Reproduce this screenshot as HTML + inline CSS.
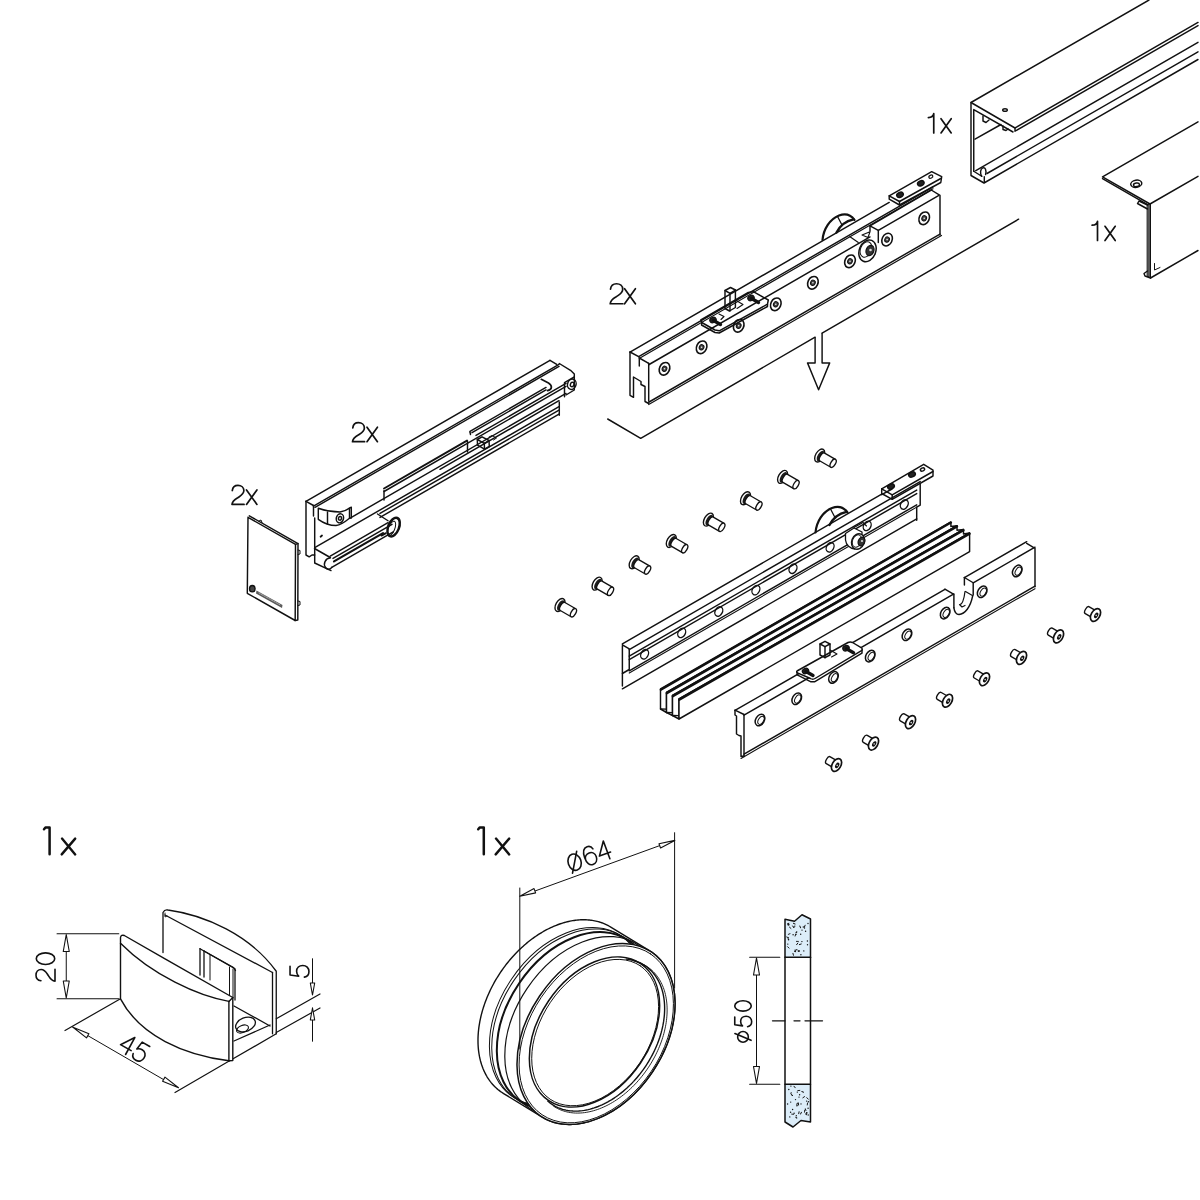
<!DOCTYPE html>
<html><head><meta charset="utf-8"><style>
html,body{margin:0;padding:0;background:#fff;width:1200px;height:1200px;overflow:hidden}
svg{display:block}
</style></head><body>
<svg width="1200" height="1200" viewBox="0 0 1200 1200" stroke-linejoin="round" stroke-linecap="round">
<rect width="1200" height="1200" fill="#fff"/>
<path d="M928.37,117.54 C931.45,117.54 933.37,116.00 933.75,113.70 L933.75,132.90" fill="none" stroke="#111" stroke-width="1.7" stroke-linecap="round"/>
<path d="M941.00,118.70 L951.22,132.90 M951.22,118.70 L941.00,132.90" fill="none" stroke="#111" stroke-width="1.7" stroke-linecap="round"/>
<path d="M1092.12,225.14 C1095.20,225.14 1097.12,223.60 1097.50,221.30 L1097.50,240.50" fill="none" stroke="#111" stroke-width="1.7" stroke-linecap="round"/>
<path d="M1105.00,226.30 L1115.22,240.50 M1115.22,226.30 L1105.00,240.50" fill="none" stroke="#111" stroke-width="1.7" stroke-linecap="round"/>
<path d="M610.50,289.15 C611.00,285.25 613.70,283.75 616.50,283.75 C620.00,283.75 622.70,285.95 622.70,289.25 C622.70,293.25 619.20,294.75 616.20,296.75 C612.70,298.75 610.40,300.75 610.20,303.75 L622.90,303.75" fill="none" stroke="#111" stroke-width="1.7" stroke-linejoin="round" stroke-linecap="round"/>
<path d="M624.60,288.75 L635.40,303.75 M635.40,288.75 L624.60,303.75" fill="none" stroke="#111" stroke-width="1.7" stroke-linecap="round"/>
<path d="M352.79,427.83 C353.26,424.12 355.82,422.70 358.49,422.70 C361.81,422.70 364.38,424.79 364.38,427.93 C364.38,431.72 361.05,433.15 358.20,435.05 C354.88,436.95 352.69,438.85 352.50,441.70 L364.56,441.70" fill="none" stroke="#111" stroke-width="1.7" stroke-linejoin="round" stroke-linecap="round"/>
<path d="M367.00,427.20 L377.44,441.70 M377.44,427.20 L367.00,441.70" fill="none" stroke="#111" stroke-width="1.7" stroke-linecap="round"/>
<path d="M232.28,490.53 C232.76,486.82 235.32,485.40 237.99,485.40 C241.31,485.40 243.88,487.49 243.88,490.62 C243.88,494.42 240.55,495.85 237.70,497.75 C234.38,499.65 232.19,501.55 232.00,504.40 L244.06,504.40" fill="none" stroke="#111" stroke-width="1.7" stroke-linejoin="round" stroke-linecap="round"/>
<path d="M246.50,489.90 L256.94,504.40 M256.94,489.90 L246.50,504.40" fill="none" stroke="#111" stroke-width="1.7" stroke-linecap="round"/>
<path d="M44.00,829.2 L45.40,827.6 L49.60,827.6 L49.60,854.3" fill="none" stroke="#111" stroke-width="2.5" stroke-linecap="round" stroke-linejoin="round"/>
<path d="M62.00,838.6 L75.20,854.4 M75.20,838.6 L61.70,854.4" fill="none" stroke="#111" stroke-width="2.4" stroke-linecap="round"/>
<path d="M478.20,829.2 L479.60,827.6 L483.80,827.6 L483.80,854.3" fill="none" stroke="#111" stroke-width="2.5" stroke-linecap="round" stroke-linejoin="round"/>
<path d="M496.00,838.6 L509.20,854.4 M509.20,838.6 L495.70,854.4" fill="none" stroke="#111" stroke-width="2.4" stroke-linecap="round"/>
<path d="M1149.00,0.00 L971.00,102.50 L971.00,175.50 L984.00,183.00 L1198.00,59.50" fill="none" stroke="#111" stroke-width="1.45" />
<path d="M971.00,102.50 L1015.00,128.00 L1198.00,22.40" fill="none" stroke="#111" stroke-width="1.45" />
<path d="M1015.00,128.00 L1015.00,131.20 L1198.00,25.60" fill="none" stroke="#111" stroke-width="1.45" />
<path d="M1013.00,132.00 L973.75,109.60 L973.75,171.25" fill="none" stroke="#111" stroke-width="1.45" />
<path d="M975.00,139.20 L1001.00,124.50" fill="none" stroke="#111" stroke-width="1.45" />
<path d="M975.80,170.60 L1198.00,42.30" fill="none" stroke="#111" stroke-width="1.45" />
<path d="M987.00,173.50 L1198.00,51.80" fill="none" stroke="#111" stroke-width="1.45" />
<path d="M973.75,171.25 L981.70,176.25" fill="none" stroke="#111" stroke-width="1.45" />
<path d="M981.7,176.25 C979.8,173.5 980.3,169 982.8,167.9 C985.3,167 986.6,170 985.6,174.6" fill="none" stroke="#111" stroke-width="1.45" />
<path d="M984.30,176.80 L984.30,182.60" fill="none" stroke="#111" stroke-width="1.45" />
<ellipse cx="1005.00" cy="110.00" rx="2.30" ry="1.30" transform="rotate(0 1005.00 110.00)" fill="none" stroke="#111" stroke-width="1.45"/>
<path d="M983.00,116.00 L983.00,121.00 L986.00,122.50 L989.00,120.00" fill="none" stroke="#111" stroke-width="1.45" />
<path d="M1003.00,126.00 L1003.00,129.50 L1006.00,130.50 L1008.00,129.00" fill="none" stroke="#111" stroke-width="1.45" />
<path d="M1198.00,121.80 L1102.50,176.90 L1150.00,204.00 L1198.00,176.30" fill="none" stroke="#111" stroke-width="1.45" />
<path d="M1102.50,178.60 L1148.00,204.80" fill="none" stroke="#111" stroke-width="1.45" />
<path d="M1147.5,205 L1150.5,204 L1150.5,278 L1147.5,276.5Z" fill="#555" stroke="#111" stroke-width="1"/>
<path d="M1150.50,278.00 L1198.00,250.50" fill="none" stroke="#111" stroke-width="1.45" />
<ellipse cx="1136.25" cy="183.75" rx="5.60" ry="3.60" transform="rotate(-10 1136.25 183.75)" fill="none" stroke="#111" stroke-width="1.45"/>
<ellipse cx="1136.50" cy="184.80" rx="3.00" ry="1.80" transform="rotate(-10 1136.50 184.80)" fill="none" stroke="#111" stroke-width="1.45"/>
<path d="M1147.50,205.00 L1139.00,201.00 L1137.50,203.50 L1147.50,209.00" fill="none" stroke="#111" stroke-width="1.45" />
<path d="M1147.50,271.00 L1144.00,273.50 L1145.00,276.00 L1150.50,278.00" fill="none" stroke="#111" stroke-width="1.45" />
<path d="M1154.50,263.50 L1154.50,270.00 L1160.00,267.50" fill="none" stroke="#111" stroke-width="1" />
<g transform="translate(0 0)"><path d="M822.5,240 C823.5,229 830,219 839,215.5 C845.5,213 850.5,214.5 854.5,219.8" fill="none" stroke="#111" stroke-width="2.2"/><path d="M836.5,232.5 C839.5,226.5 845.5,221 853.5,219.3" fill="none" stroke="#111" stroke-width="2.4"/><path d="M837.8,217 L842,225" fill="none" stroke="#111" stroke-width="1.3"/></g>
<path d="M630.00,352.05 L889.20,202.39" fill="none" stroke="#111" stroke-width="1.45" />
<path d="M638.70,356.72 L933.00,186.80" fill="none" stroke="#111" stroke-width="1.45" />
<path d="M640.00,357.97 L933.00,188.80" fill="none" stroke="#111" stroke-width="1.2" />
<path d="M630.00,352.00 L630.00,395.30 L633.50,397.30 L633.50,377.00 L641.00,381.50 L641.00,384.50 L645.00,386.50 L645.00,401.50 L648.70,403.50" fill="none" stroke="#111" stroke-width="1.45" />
<path d="M630.00,352.00 L638.70,356.70" fill="none" stroke="#111" stroke-width="1.45" />
<path d="M639.30,358.00 L648.70,363.30" fill="none" stroke="#111" stroke-width="1.45" />
<path d="M639.30,358.00 L639.30,366.00" fill="none" stroke="#111" stroke-width="1.45" />
<path d="M648.70,364.75 L870.00,236.97" fill="none" stroke="#111" stroke-width="1.45" />
<path d="M648.70,363.30 L648.70,401.00" fill="none" stroke="#111" stroke-width="1.45" />
<path d="M648.70,402.25 L940.00,234.05" fill="none" stroke="#111" stroke-width="1.45" />
<path d="M648.70,404.55 L941.50,235.49" fill="none" stroke="#111" stroke-width="1.2" />
<path d="M870.00,225.80 L931.25,190.00 L940.00,195.40 L940.00,235.00" fill="none" stroke="#111" stroke-width="1.45" />
<path d="M870.00,225.80 L878.30,230.40 L938.50,195.60" fill="none" stroke="#111" stroke-width="1.45" />
<path d="M870.00,225.80 L870.00,231.00" fill="none" stroke="#111" stroke-width="1.45" />
<path d="M878.30,230.40 L878.30,242.50" fill="none" stroke="#111" stroke-width="1.45" />
<path d="M862.00,235.00 L870.00,231.70 L868.00,237.50 L862.00,235.00" fill="none" stroke="#111" stroke-width="1.1" />
<path d="M850.00,236.70 L858.30,242.50" fill="none" stroke="#111" stroke-width="1.2" />
<ellipse cx="924.20" cy="218.30" rx="5.00" ry="6.60" transform="rotate(25 924.20 218.30)" fill="none" stroke="#111" stroke-width="1.6"/>
<ellipse cx="924.20" cy="218.30" rx="2.30" ry="2.70" transform="rotate(25 924.20 218.30)" fill="#444" stroke="#111" stroke-width="1.0"/>
<circle cx="924.20" cy="218.30" r="0.8" fill="#eee"/>
<ellipse cx="887.10" cy="239.60" rx="5.00" ry="6.60" transform="rotate(25 887.10 239.60)" fill="none" stroke="#111" stroke-width="1.6"/>
<ellipse cx="887.10" cy="239.60" rx="2.30" ry="2.70" transform="rotate(25 887.10 239.60)" fill="#444" stroke="#111" stroke-width="1.0"/>
<circle cx="887.10" cy="239.60" r="0.8" fill="#eee"/>
<ellipse cx="850.00" cy="261.30" rx="5.00" ry="6.60" transform="rotate(25 850.00 261.30)" fill="none" stroke="#111" stroke-width="1.6"/>
<ellipse cx="850.00" cy="261.30" rx="2.30" ry="2.70" transform="rotate(25 850.00 261.30)" fill="#444" stroke="#111" stroke-width="1.0"/>
<circle cx="850.00" cy="261.30" r="0.8" fill="#eee"/>
<ellipse cx="812.90" cy="282.80" rx="5.00" ry="6.60" transform="rotate(25 812.90 282.80)" fill="none" stroke="#111" stroke-width="1.6"/>
<ellipse cx="812.90" cy="282.80" rx="2.30" ry="2.70" transform="rotate(25 812.90 282.80)" fill="#444" stroke="#111" stroke-width="1.0"/>
<circle cx="812.90" cy="282.80" r="0.8" fill="#eee"/>
<ellipse cx="775.80" cy="304.30" rx="5.00" ry="6.60" transform="rotate(25 775.80 304.30)" fill="none" stroke="#111" stroke-width="1.6"/>
<ellipse cx="775.80" cy="304.30" rx="2.30" ry="2.70" transform="rotate(25 775.80 304.30)" fill="#444" stroke="#111" stroke-width="1.0"/>
<circle cx="775.80" cy="304.30" r="0.8" fill="#eee"/>
<ellipse cx="738.70" cy="325.80" rx="5.00" ry="6.60" transform="rotate(25 738.70 325.80)" fill="none" stroke="#111" stroke-width="1.6"/>
<ellipse cx="738.70" cy="325.80" rx="2.30" ry="2.70" transform="rotate(25 738.70 325.80)" fill="#444" stroke="#111" stroke-width="1.0"/>
<circle cx="738.70" cy="325.80" r="0.8" fill="#eee"/>
<ellipse cx="701.60" cy="347.30" rx="5.00" ry="6.60" transform="rotate(25 701.60 347.30)" fill="none" stroke="#111" stroke-width="1.6"/>
<ellipse cx="701.60" cy="347.30" rx="2.30" ry="2.70" transform="rotate(25 701.60 347.30)" fill="#444" stroke="#111" stroke-width="1.0"/>
<circle cx="701.60" cy="347.30" r="0.8" fill="#eee"/>
<ellipse cx="664.50" cy="368.80" rx="5.00" ry="6.60" transform="rotate(25 664.50 368.80)" fill="none" stroke="#111" stroke-width="1.6"/>
<ellipse cx="664.50" cy="368.80" rx="2.30" ry="2.70" transform="rotate(25 664.50 368.80)" fill="#444" stroke="#111" stroke-width="1.0"/>
<circle cx="664.50" cy="368.80" r="0.8" fill="#eee"/>
<path d="M889.20,195.80 L931.70,171.70 L941.70,176.70 L940.80,182.50 L899.50,205.00 L889.20,199.20 L889.20,195.80" fill="none" stroke="#111" stroke-width="1.45" />
<path d="M889.20,195.80 L899.50,201.50 L940.80,178.50" fill="none" stroke="#111" stroke-width="1.45" />
<path d="M899.50,201.50 L899.50,205.00" fill="none" stroke="#111" stroke-width="1.45" />
<ellipse cx="900.00" cy="194.80" rx="3.40" ry="2.40" transform="rotate(-25 900.00 194.80)" fill="#222" stroke="#111" stroke-width="1.45"/>
<ellipse cx="920.80" cy="183.30" rx="3.40" ry="2.40" transform="rotate(-25 920.80 183.30)" fill="#222" stroke="#111" stroke-width="1.45"/>
<ellipse cx="930.80" cy="176.70" rx="2.10" ry="1.50" transform="rotate(-25 930.80 176.70)" fill="none" stroke="#111" stroke-width="1.2"/>
<ellipse cx="867.5" cy="250.8" rx="8.2" ry="11.2" transform="rotate(22 867.5 250.8)" fill="#fff" stroke="#111" stroke-width="1.5"/>
<ellipse cx="866.00" cy="249.50" rx="5.50" ry="8.00" transform="rotate(22 866.00 249.50)" fill="none" stroke="#111" stroke-width="1.0"/>
<ellipse cx="870" cy="250.5" rx="3.8" ry="5.2" transform="rotate(22 870 250.5)" fill="#333" stroke="#111" stroke-width="1.2"/>
<circle cx="870.5" cy="250" r="1.3" fill="#ddd"/>
<path d="M700.80,320.00 L748.30,292.50 L753.30,291.70 L768.30,300.00 L767.50,304.20 L719.20,330.80 L715.00,330.00 L701.70,322.50 L700.80,320.00" fill="none" stroke="#111" stroke-width="1.45" />
<path d="M701.70,322.50 L701.50,325.00 L715.00,332.50 L719.20,333.00 L767.50,306.50 L767.50,304.20" fill="none" stroke="#111" stroke-width="1.45" />
<ellipse cx="713.00" cy="320.00" rx="3.30" ry="2.60" transform="rotate(-28 713.00 320.00)" fill="#222" stroke="#111" stroke-width="1.2"/>
<ellipse cx="751.00" cy="298.00" rx="3.30" ry="2.60" transform="rotate(-28 751.00 298.00)" fill="#222" stroke="#111" stroke-width="1.2"/>
<path d="M713.50,320.50 L720.50,324.50" fill="none" stroke="#111" stroke-width="3.4" />
<path d="M751.50,298.50 L758.50,302.50" fill="none" stroke="#111" stroke-width="3.4" />
<path d="M725.00,290.50 L730.50,287.50 L735.40,290.00 L735.40,307.50 L729.50,311.00 L725.00,308.50 L725.00,290.50" fill="none" stroke="#111" stroke-width="1.45" />
<path d="M725.00,290.50 L730.00,293.30 L735.40,290.00" fill="none" stroke="#111" stroke-width="1.45" />
<path d="M730.00,293.30 L730.00,311.00" fill="none" stroke="#111" stroke-width="1.45" />
<path d="M735.40,300.00 L743.00,304.50 L737.00,308.50" fill="none" stroke="#111" stroke-width="1.1" />
<path d="M719.00,314.00 L724.00,316.50 L721.00,319.50" fill="none" stroke="#111" stroke-width="1.1" />
<path d="M607.70,419.00 L640.70,438.30 L815.10,337.20" fill="none" stroke="#111" stroke-width="1.45" />
<path d="M822.10,333.10 L1018.60,219.20" fill="none" stroke="#111" stroke-width="1.45" />
<path d="M815.10,337.60 L815.10,362.90 L807.50,362.90 L818.60,389.80 L829.70,362.90 L822.10,362.90 L822.10,333.50" fill="none" stroke="#111" stroke-width="1.45" />
<path d="M306.00,501.34 L550.00,360.45" fill="none" stroke="#111" stroke-width="1.45" />
<path d="M313.50,506.21 L559.00,364.45" fill="none" stroke="#111" stroke-width="1.45" />
<path d="M315.00,507.34 L559.00,366.45" fill="none" stroke="#111" stroke-width="1.45" />
<path d="M470.00,431.34 L546.00,387.46" fill="none" stroke="#111" stroke-width="1.45" />
<path d="M472.00,432.69 L546.00,389.96" fill="none" stroke="#111" stroke-width="1.45" />
<path d="M470.00,432.00 L470.50,434.50" fill="none" stroke="#111" stroke-width="1.45" />
<path d="M384.00,488.50 L467.00,440.57" fill="none" stroke="#111" stroke-width="1.9" />
<path d="M476.00,435.38 L566.00,383.41" fill="none" stroke="#111" stroke-width="1.45" />
<path d="M384.00,491.50 L566.00,386.41" fill="none" stroke="#111" stroke-width="1.45" />
<path d="M351.00,517.55 L566.00,393.41" fill="none" stroke="#111" stroke-width="1.45" />
<path d="M440.00,469.36 L559.00,400.65" fill="none" stroke="#111" stroke-width="1.45" />
<path d="M314.70,547.71 L559.00,406.65" fill="none" stroke="#111" stroke-width="1.45" />
<path d="M380.00,513.41 L559.00,410.05" fill="none" stroke="#111" stroke-width="1.45" />
<path d="M380.00,517.41 L559.00,414.05" fill="none" stroke="#111" stroke-width="1.45" />
<path d="M467.50,441.00 L467.50,452.00" fill="none" stroke="#111" stroke-width="1.45" />
<path d="M477.30,439.50 L482.00,436.80 L489.00,440.50 L489.30,446.50 L484.50,449.20 L477.50,445.20 L477.30,439.50" fill="none" stroke="#111" stroke-width="1.45" />
<path d="M477.30,439.50 L484.30,443.30 L489.00,440.50" fill="none" stroke="#111" stroke-width="1.45" />
<path d="M484.30,443.30 L484.50,449.20" fill="none" stroke="#111" stroke-width="1.45" />
<path d="M489.00,437.00 L492.00,435.50 L496.50,438.00 L493.50,440.00" fill="none" stroke="#111" stroke-width="1" />
<path d="M306.00,501.30 L306.00,555.00 L309.20,556.80 L312.00,555.00 L314.70,555.00" fill="none" stroke="#111" stroke-width="1.45" />
<path d="M306.00,501.30 L313.50,505.50" fill="none" stroke="#111" stroke-width="1.45" />
<path d="M314.70,518.00 L314.70,563.00 L331.00,570.60" fill="none" stroke="#111" stroke-width="1.45" />
<path d="M313.50,505.50 L313.50,516.00" fill="none" stroke="#111" stroke-width="1.45" />
<path d="M318.3,508.3 C326,511 334,512 340,512 C344,511.5 347,510 349.5,508.2 L349.5,518.3 C345,522 341,525 336,525.5 C328,525.5 322,522 318.3,519.3 Z" fill="none" stroke="#111" stroke-width="1.45" />
<path d="M327.50,512.00 L327.50,524.00" fill="none" stroke="#111" stroke-width="1.45" />
<ellipse cx="339.90" cy="518.30" rx="3.60" ry="4.60" transform="rotate(15 339.90 518.30)" fill="none" stroke="#111" stroke-width="1.5"/>
<ellipse cx="340.00" cy="518.30" rx="1.50" ry="1.90" transform="rotate(15 340.00 518.30)" fill="none" stroke="#111" stroke-width="1.45"/>
<path d="M349.50,508.20 L351.30,507.20 L351.30,518.00 L349.50,518.30" fill="none" stroke="#111" stroke-width="1.45" />
<path d="M384.00,490.70 L384.00,500.00" fill="none" stroke="#111" stroke-width="1.45" />
<path d="M320.60,536.70 L322.00,535.50" fill="none" stroke="#111" stroke-width="1.8" />
<path d="M550.00,360.30 L556.70,364.30" fill="none" stroke="#111" stroke-width="1.45" />
<path d="M559.30,363.50 L570.50,370.30 L574.30,374.00 L574.30,377.00 L564.50,382.70 L564.50,396.70" fill="none" stroke="#111" stroke-width="1.45" />
<path d="M574.30,377.00 L574.30,390.00 L566.00,395.00" fill="none" stroke="#111" stroke-width="1.45" />
<ellipse cx="571.80" cy="384.30" rx="4.20" ry="5.20" transform="rotate(20 571.80 384.30)" fill="none" stroke="#111" stroke-width="1.45"/>
<ellipse cx="572.20" cy="384.50" rx="1.80" ry="2.20" transform="rotate(20 572.20 384.50)" fill="none" stroke="#111" stroke-width="1.45"/>
<path d="M541.3,379.3 L548.5,383 C552.5,385.5 552.5,389.5 547.5,390.6" fill="none" stroke="#111" stroke-width="1.7" />
<path d="M559.30,402.00 L559.30,415.30" fill="none" stroke="#111" stroke-width="1.45" />
<path d="M377.50,514.00 L388.00,520.75" fill="none" stroke="#111" stroke-width="1.45" />
<path d="M314.50,548.50 L330.25,557.50" fill="none" stroke="#111" stroke-width="1.45" />
<path d="M330.25,556.03 L388.00,522.69" fill="none" stroke="#111" stroke-width="1.45" />
<path d="M333.00,558.45 L392.00,524.38" fill="none" stroke="#111" stroke-width="1.45" />
<path d="M334.00,561.37 L383.00,533.08" fill="none" stroke="#111" stroke-width="2.2" />
<path d="M331.75,567.27 L393.25,531.76" fill="none" stroke="#111" stroke-width="1.45" />
<path d="M330.5,557.8 C325,558.5 323,564 325.5,567.5 C327.5,570 330.5,569.5 331.75,567.3" fill="none" stroke="#111" stroke-width="1.45" />
<ellipse cx="393.60" cy="527.10" rx="5.40" ry="9.80" transform="rotate(22 393.60 527.10)" fill="none" stroke="#111" stroke-width="2.5"/>
<ellipse cx="391.50" cy="528.50" rx="3.20" ry="7.80" transform="rotate(22 391.50 528.50)" fill="none" stroke="#111" stroke-width="1.0"/>
<path d="M381.50,535.50 L385.50,533.30" fill="none" stroke="#111" stroke-width="2.0" />
<path d="M248.00,517.30 L295.50,544.40 L295.20,620.50 L247.30,593.30 L248.00,517.30" fill="none" stroke="#111" stroke-width="1.45" />
<path d="M249.30,515.80 L298.00,543.60 L297.80,620.00 L295.20,620.50" fill="none" stroke="#111" stroke-width="1.45" />
<path d="M295.50,544.40 L298.00,543.60" fill="none" stroke="#111" stroke-width="1.45" />
<path d="M259.00,521.00 L261.00,520.00 L262.00,522.50" fill="none" stroke="#111" stroke-width="1" />
<path d="M298.00,550.00 L300.00,550.50 L300.00,554.00 L298.00,554.50" fill="none" stroke="#111" stroke-width="1" />
<path d="M298.00,601.00 L300.00,601.50 L300.00,605.00 L298.00,605.50" fill="none" stroke="#111" stroke-width="1" />
<ellipse cx="252.30" cy="588.70" rx="2.80" ry="3.20" transform="rotate(0 252.30 588.70)" fill="#444" stroke="#111" stroke-width="1.3"/>
<path d="M256.5,590.5 L282.5,605 L282,608 L256,593.5Z" fill="#222" stroke="none" opacity="0.75"/>
<path d="M259,593 L280,604.8" stroke="#fff" stroke-width="0.7" stroke-dasharray="1.6 1.2" opacity="0.7"/>
<path d="M622.40,643.85 L881.70,494.13" fill="none" stroke="#111" stroke-width="1.45" />
<path d="M629.25,649.59 L920.20,481.60" fill="none" stroke="#111" stroke-width="1.45" />
<path d="M629.25,656.09 L916.70,490.12" fill="none" stroke="#111" stroke-width="1.45" />
<path d="M629.25,659.59 L916.70,493.62" fill="none" stroke="#111" stroke-width="1.45" />
<path d="M629.25,670.79 L916.70,504.82" fill="none" stroke="#111" stroke-width="1.45" />
<path d="M629.25,673.09 L916.70,507.12" fill="none" stroke="#111" stroke-width="1.1" />
<path d="M622.40,688.85 L916.70,518.92" fill="none" stroke="#111" stroke-width="1.45" />
<path d="M622.40,644.80 L629.25,648.90 L629.25,669.50 L622.40,673.50 L622.40,644.80" fill="none" stroke="#111" stroke-width="1.45" />
<path d="M622.40,673.50 L622.40,686.00" fill="none" stroke="#111" stroke-width="1.45" />
<path d="M920.20,484.20 L920.20,505.20 L916.70,507.20 L916.70,520.30" fill="none" stroke="#111" stroke-width="1.45" />
<path d="M881.70,494.70 L892.00,489.00" fill="none" stroke="#111" stroke-width="1.45" />
<ellipse cx="904.30" cy="504.50" rx="3.60" ry="5.00" transform="rotate(28 904.30 504.50)" fill="none" stroke="#111" stroke-width="1.4"/>
<ellipse cx="867.20" cy="525.90" rx="3.60" ry="5.00" transform="rotate(28 867.20 525.90)" fill="none" stroke="#111" stroke-width="1.4"/>
<ellipse cx="830.10" cy="547.30" rx="3.60" ry="5.00" transform="rotate(28 830.10 547.30)" fill="none" stroke="#111" stroke-width="1.4"/>
<ellipse cx="793.00" cy="568.70" rx="3.60" ry="5.00" transform="rotate(28 793.00 568.70)" fill="none" stroke="#111" stroke-width="1.4"/>
<ellipse cx="755.90" cy="590.10" rx="3.60" ry="5.00" transform="rotate(28 755.90 590.10)" fill="none" stroke="#111" stroke-width="1.4"/>
<ellipse cx="718.80" cy="611.50" rx="3.60" ry="5.00" transform="rotate(28 718.80 611.50)" fill="none" stroke="#111" stroke-width="1.4"/>
<ellipse cx="681.70" cy="632.90" rx="3.60" ry="5.00" transform="rotate(28 681.70 632.90)" fill="none" stroke="#111" stroke-width="1.4"/>
<ellipse cx="644.60" cy="654.30" rx="3.60" ry="5.00" transform="rotate(28 644.60 654.30)" fill="none" stroke="#111" stroke-width="1.4"/>
<path d="M881.70,488.80 L923.70,464.30 L933.00,470.20 L933.00,476.00 L892.20,499.30 L881.70,493.50 L881.70,488.80" fill="none" stroke="#111" stroke-width="1.45" />
<path d="M881.70,488.80 L892.20,494.80 L933.00,471.50" fill="none" stroke="#111" stroke-width="1.45" />
<path d="M892.20,494.80 L892.20,499.30" fill="none" stroke="#111" stroke-width="1.45" />
<ellipse cx="891.00" cy="486.50" rx="3.50" ry="2.40" transform="rotate(-25 891.00 486.50)" fill="#222" stroke="#111" stroke-width="1.45"/>
<ellipse cx="912.00" cy="474.50" rx="3.50" ry="2.40" transform="rotate(-25 912.00 474.50)" fill="#222" stroke="#111" stroke-width="1.45"/>
<ellipse cx="922.50" cy="469.50" rx="2.20" ry="1.50" transform="rotate(-25 922.50 469.50)" fill="none" stroke="#111" stroke-width="1.45"/>
<g transform="translate(-7 292.5)"><path d="M822.5,240 C823.5,229 830,219 839,215.5 C845.5,213 850.5,214.5 854.5,219.8" fill="none" stroke="#111" stroke-width="2.2"/><path d="M836.5,232.5 C839.5,226.5 845.5,221 853.5,219.3" fill="none" stroke="#111" stroke-width="2.4"/><path d="M837.8,217 L842,225" fill="none" stroke="#111" stroke-width="1.3"/></g>
<path d="M845.5,533.5 L845.5,540 C846,545 850,548.5 855,549 L862,545 L862,532 L854,528 Z" fill="#fff" stroke="#111" stroke-width="1.3"/>
<path d="M854.00,527.50 L863.00,522.50 L866.50,526.00" fill="none" stroke="#111" stroke-width="1.1" />
<ellipse cx="858" cy="541.5" rx="6.3" ry="8" transform="rotate(22 858 541.5)" fill="#fff" stroke="#111" stroke-width="1.4"/>
<ellipse cx="857.00" cy="541.00" rx="4.40" ry="6.40" transform="rotate(22 857.00 541.00)" fill="none" stroke="#111" stroke-width="0.9"/>
<ellipse cx="861.5" cy="541.5" rx="3.2" ry="4.5" transform="rotate(22 861.5 541.5)" fill="#333" stroke="#111" stroke-width="1.2"/>
<circle cx="862" cy="541" r="1.1" fill="#ddd"/>
<path d="M660.5,709.0 L660.5,689 L950.9,521.9 L950.9,526.4 L957,525.7 L666.5,692.5 L666.5,712.5 Z" fill="#fff" stroke="#111" stroke-width="1.45" stroke-linejoin="round"/>
<path d="M660.50,709.00 L666.50,709.10" fill="none" stroke="#111" stroke-width="1.45" />
<path d="M660.80,689.70 L950.90,522.60" fill="none" stroke="#111" stroke-width="2.3" />
<path d="M666.5,712.5 L666.5,692.5 L957,525.7 L957,530.2 L963.5,529.5 L672.5,695.5 L672.5,715.5 Z" fill="#fff" stroke="#111" stroke-width="1.45" stroke-linejoin="round"/>
<path d="M666.50,712.50 L672.50,712.60" fill="none" stroke="#111" stroke-width="1.45" />
<path d="M666.80,693.20 L957.00,526.40" fill="none" stroke="#111" stroke-width="2.3" />
<path d="M672.5,715.5 L672.5,695.5 L963.5,529.5 L963.5,534.0 L969.6,533 L679,699 L679,719.0 Z" fill="#fff" stroke="#111" stroke-width="1.45" stroke-linejoin="round"/>
<path d="M672.50,715.50 L679.00,715.60" fill="none" stroke="#111" stroke-width="1.45" />
<path d="M672.80,696.20 L963.50,530.20" fill="none" stroke="#111" stroke-width="2.3" />
<path d="M679,719.0 L679,699 L969.6,533 L969.6,551.7 Z" fill="#fff" stroke="#111" stroke-width="1.45" stroke-linejoin="round"/>
<path d="M679.30,699.70 L969.60,533.70" fill="none" stroke="#111" stroke-width="2.3" />
<path d="M735.00,710.20 L744.00,714.50" fill="none" stroke="#111" stroke-width="1.45" />
<path d="M735.00,710.49 L944.90,589.29" fill="none" stroke="#111" stroke-width="1.45" />
<path d="M744.00,715.19 L953.90,593.99" fill="none" stroke="#111" stroke-width="1.45" />
<path d="M964.40,577.63 L1026.70,541.66" fill="none" stroke="#111" stroke-width="1.45" />
<path d="M973.20,582.85 L1035.00,547.17" fill="none" stroke="#111" stroke-width="1.45" />
<path d="M1026.70,543.30 L1035.00,548.30 L1035.00,586.70" fill="none" stroke="#111" stroke-width="1.45" />
<path d="M744.00,754.19 L1035.00,586.17" fill="none" stroke="#111" stroke-width="1.45" />
<path d="M741.00,758.42 L1035.00,588.67" fill="none" stroke="#111" stroke-width="1.1" />
<path d="M735.00,710.20 L735.00,715.00 L736.50,716.00 L736.50,734.00 L739.00,735.50 L741.00,736.00 L741.00,756.50 L744.00,756.00" fill="none" stroke="#111" stroke-width="1.45" />
<path d="M744.00,714.50 L744.00,756.50" fill="none" stroke="#111" stroke-width="1.45" />
<path d="M944.90,589.20 L953.90,594.40 L953.90,607.80" fill="none" stroke="#111" stroke-width="1.45" />
<path d="M953.9,607.8 C954.5,612 956,614.5 959,614.5 C965,614 970.5,607 972.6,596.2" fill="none" stroke="#111" stroke-width="1.45" />
<path d="M964.40,577.50 L973.20,582.75 L973.20,595.00" fill="none" stroke="#111" stroke-width="1.45" />
<path d="M964.40,577.50 L964.40,585.00" fill="none" stroke="#111" stroke-width="1.45" />
<path d="M965,591.5 C964,600 962,605 959.5,604.5 L962,607 L965,605.5" fill="none" stroke="#111" stroke-width="1.2" />
<path d="M965.50,591.50 L972.80,595.80" fill="none" stroke="#111" stroke-width="1.2" />
<ellipse cx="760.00" cy="720.00" rx="4.30" ry="6.20" transform="rotate(30 760.00 720.00)" fill="none" stroke="#111" stroke-width="1.5"/>
<ellipse cx="761.00" cy="720.30" rx="2.60" ry="4.40" transform="rotate(30 761.00 720.30)" fill="none" stroke="#111" stroke-width="1.0"/>
<ellipse cx="796.75" cy="698.70" rx="4.30" ry="6.20" transform="rotate(30 796.75 698.70)" fill="none" stroke="#111" stroke-width="1.5"/>
<ellipse cx="797.75" cy="699.00" rx="2.60" ry="4.40" transform="rotate(30 797.75 699.00)" fill="none" stroke="#111" stroke-width="1.0"/>
<ellipse cx="833.50" cy="677.40" rx="4.30" ry="6.20" transform="rotate(30 833.50 677.40)" fill="none" stroke="#111" stroke-width="1.5"/>
<ellipse cx="834.50" cy="677.70" rx="2.60" ry="4.40" transform="rotate(30 834.50 677.70)" fill="none" stroke="#111" stroke-width="1.0"/>
<ellipse cx="870.25" cy="656.10" rx="4.30" ry="6.20" transform="rotate(30 870.25 656.10)" fill="none" stroke="#111" stroke-width="1.5"/>
<ellipse cx="871.25" cy="656.40" rx="2.60" ry="4.40" transform="rotate(30 871.25 656.40)" fill="none" stroke="#111" stroke-width="1.0"/>
<ellipse cx="907.00" cy="634.80" rx="4.30" ry="6.20" transform="rotate(30 907.00 634.80)" fill="none" stroke="#111" stroke-width="1.5"/>
<ellipse cx="908.00" cy="635.10" rx="2.60" ry="4.40" transform="rotate(30 908.00 635.10)" fill="none" stroke="#111" stroke-width="1.0"/>
<ellipse cx="945.20" cy="613.10" rx="4.30" ry="6.20" transform="rotate(30 945.20 613.10)" fill="none" stroke="#111" stroke-width="1.5"/>
<ellipse cx="946.20" cy="613.40" rx="2.60" ry="4.40" transform="rotate(30 946.20 613.40)" fill="none" stroke="#111" stroke-width="1.0"/>
<ellipse cx="982.20" cy="591.80" rx="4.30" ry="6.20" transform="rotate(30 982.20 591.80)" fill="none" stroke="#111" stroke-width="1.5"/>
<ellipse cx="983.20" cy="592.10" rx="2.60" ry="4.40" transform="rotate(30 983.20 592.10)" fill="none" stroke="#111" stroke-width="1.0"/>
<ellipse cx="1017.25" cy="570.90" rx="4.30" ry="6.20" transform="rotate(30 1017.25 570.90)" fill="none" stroke="#111" stroke-width="1.5"/>
<ellipse cx="1018.25" cy="571.20" rx="2.60" ry="4.40" transform="rotate(30 1018.25 571.20)" fill="none" stroke="#111" stroke-width="1.0"/>
<path d="M797,671 L848,642.5 C849.5,641.7 851,641.7 852.5,642.5 L861.5,647.8 C862.5,648.5 862.5,650 861.5,650.7 L815,678.5 C813.5,679.4 812,679.4 810.5,678.5 L797.5,672.8 C796.5,672.2 796.5,671.4 797,671 Z" fill="#fff" stroke="#111" stroke-width="1.45"/>
<path d="M797.00,672.50 L797.20,674.80 L811.00,681.80 L814.50,681.80 L862.00,653.20 L862.00,650.00" fill="none" stroke="#111" stroke-width="1.45" />
<ellipse cx="805.50" cy="671.00" rx="3.30" ry="2.60" transform="rotate(-28 805.50 671.00)" fill="#222" stroke="#111" stroke-width="1.2"/>
<ellipse cx="846.00" cy="648.20" rx="3.30" ry="2.60" transform="rotate(-28 846.00 648.20)" fill="#222" stroke="#111" stroke-width="1.2"/>
<path d="M806.00,671.50 L813.00,675.50" fill="none" stroke="#111" stroke-width="3.4" />
<path d="M846.50,648.70 L853.50,652.70" fill="none" stroke="#111" stroke-width="3.4" />
<path d="M806.00,671.50 L813.00,675.50" fill="none" stroke="#111" stroke-width="0.8" />
<path d="M846.50,648.70 L853.50,652.70" fill="none" stroke="#111" stroke-width="0.8" />
<path d="M820.00,644.00 L825.00,641.30 L830.00,644.00 L830.00,655.00 L825.00,657.70 L820.00,655.00 L820.00,644.00" fill="none" stroke="#111" stroke-width="1.45" />
<path d="M820.00,644.00 L825.00,646.70 L830.00,644.00" fill="none" stroke="#111" stroke-width="1.45" />
<path d="M825.00,646.70 L825.00,657.70" fill="none" stroke="#111" stroke-width="1.45" />
<path d="M830.00,650.00 L837.00,654.00 L831.50,657.00" fill="none" stroke="#111" stroke-width="1.1" />
<g transform="translate(560.00 605.00) rotate(30)"><ellipse cx="0" cy="0" rx="4.1" ry="7.1" fill="#fff" stroke="#111" stroke-width="1.4"/><ellipse cx="1.0" cy="0" rx="2.9" ry="5.9" fill="#1c1c1c" stroke="none"/><path d="M3.0,-4.6 L15.5,-4.6 L15.5,4.6 L3.0,4.6 A2.2,4.6 0 0 1 3.0,-4.6Z" fill="#fff" stroke="#111" stroke-width="1.35"/><ellipse cx="15.5" cy="0" rx="2.3" ry="4.6" fill="#fff" stroke="#111" stroke-width="1.35"/></g>
<g transform="translate(597.10 583.65) rotate(30)"><ellipse cx="0" cy="0" rx="4.1" ry="7.1" fill="#fff" stroke="#111" stroke-width="1.4"/><ellipse cx="1.0" cy="0" rx="2.9" ry="5.9" fill="#1c1c1c" stroke="none"/><path d="M3.0,-4.6 L15.5,-4.6 L15.5,4.6 L3.0,4.6 A2.2,4.6 0 0 1 3.0,-4.6Z" fill="#fff" stroke="#111" stroke-width="1.35"/><ellipse cx="15.5" cy="0" rx="2.3" ry="4.6" fill="#fff" stroke="#111" stroke-width="1.35"/></g>
<g transform="translate(634.20 562.30) rotate(30)"><ellipse cx="0" cy="0" rx="4.1" ry="7.1" fill="#fff" stroke="#111" stroke-width="1.4"/><ellipse cx="1.0" cy="0" rx="2.9" ry="5.9" fill="#1c1c1c" stroke="none"/><path d="M3.0,-4.6 L15.5,-4.6 L15.5,4.6 L3.0,4.6 A2.2,4.6 0 0 1 3.0,-4.6Z" fill="#fff" stroke="#111" stroke-width="1.35"/><ellipse cx="15.5" cy="0" rx="2.3" ry="4.6" fill="#fff" stroke="#111" stroke-width="1.35"/></g>
<g transform="translate(671.30 540.95) rotate(30)"><ellipse cx="0" cy="0" rx="4.1" ry="7.1" fill="#fff" stroke="#111" stroke-width="1.4"/><ellipse cx="1.0" cy="0" rx="2.9" ry="5.9" fill="#1c1c1c" stroke="none"/><path d="M3.0,-4.6 L15.5,-4.6 L15.5,4.6 L3.0,4.6 A2.2,4.6 0 0 1 3.0,-4.6Z" fill="#fff" stroke="#111" stroke-width="1.35"/><ellipse cx="15.5" cy="0" rx="2.3" ry="4.6" fill="#fff" stroke="#111" stroke-width="1.35"/></g>
<g transform="translate(708.40 519.60) rotate(30)"><ellipse cx="0" cy="0" rx="4.1" ry="7.1" fill="#fff" stroke="#111" stroke-width="1.4"/><ellipse cx="1.0" cy="0" rx="2.9" ry="5.9" fill="#1c1c1c" stroke="none"/><path d="M3.0,-4.6 L15.5,-4.6 L15.5,4.6 L3.0,4.6 A2.2,4.6 0 0 1 3.0,-4.6Z" fill="#fff" stroke="#111" stroke-width="1.35"/><ellipse cx="15.5" cy="0" rx="2.3" ry="4.6" fill="#fff" stroke="#111" stroke-width="1.35"/></g>
<g transform="translate(745.50 498.25) rotate(30)"><ellipse cx="0" cy="0" rx="4.1" ry="7.1" fill="#fff" stroke="#111" stroke-width="1.4"/><ellipse cx="1.0" cy="0" rx="2.9" ry="5.9" fill="#1c1c1c" stroke="none"/><path d="M3.0,-4.6 L15.5,-4.6 L15.5,4.6 L3.0,4.6 A2.2,4.6 0 0 1 3.0,-4.6Z" fill="#fff" stroke="#111" stroke-width="1.35"/><ellipse cx="15.5" cy="0" rx="2.3" ry="4.6" fill="#fff" stroke="#111" stroke-width="1.35"/></g>
<g transform="translate(782.60 476.90) rotate(30)"><ellipse cx="0" cy="0" rx="4.1" ry="7.1" fill="#fff" stroke="#111" stroke-width="1.4"/><ellipse cx="1.0" cy="0" rx="2.9" ry="5.9" fill="#1c1c1c" stroke="none"/><path d="M3.0,-4.6 L15.5,-4.6 L15.5,4.6 L3.0,4.6 A2.2,4.6 0 0 1 3.0,-4.6Z" fill="#fff" stroke="#111" stroke-width="1.35"/><ellipse cx="15.5" cy="0" rx="2.3" ry="4.6" fill="#fff" stroke="#111" stroke-width="1.35"/></g>
<g transform="translate(819.70 455.55) rotate(30)"><ellipse cx="0" cy="0" rx="4.1" ry="7.1" fill="#fff" stroke="#111" stroke-width="1.4"/><ellipse cx="1.0" cy="0" rx="2.9" ry="5.9" fill="#1c1c1c" stroke="none"/><path d="M3.0,-4.6 L15.5,-4.6 L15.5,4.6 L3.0,4.6 A2.2,4.6 0 0 1 3.0,-4.6Z" fill="#fff" stroke="#111" stroke-width="1.35"/><ellipse cx="15.5" cy="0" rx="2.3" ry="4.6" fill="#fff" stroke="#111" stroke-width="1.35"/></g>
<g transform="translate(836.50 765.00) rotate(30)"><path d="M-1,-4.0 L-9.5,-4.0 A2,4.0 0 0 0 -9.5,4.0 L-1,4.0Z" fill="#fff" stroke="#111" stroke-width="1.4"/><ellipse cx="0" cy="0" rx="4.3" ry="7" fill="#fff" stroke="#111" stroke-width="1.7"/><ellipse cx="0.8" cy="0" rx="1.8" ry="3.0" fill="#111" stroke="none"/><circle cx="0.8" cy="0" r="0.8" fill="#ddd"/></g>
<g transform="translate(873.50 743.57) rotate(30)"><path d="M-1,-4.0 L-9.5,-4.0 A2,4.0 0 0 0 -9.5,4.0 L-1,4.0Z" fill="#fff" stroke="#111" stroke-width="1.4"/><ellipse cx="0" cy="0" rx="4.3" ry="7" fill="#fff" stroke="#111" stroke-width="1.7"/><ellipse cx="0.8" cy="0" rx="1.8" ry="3.0" fill="#111" stroke="none"/><circle cx="0.8" cy="0" r="0.8" fill="#ddd"/></g>
<g transform="translate(910.50 722.14) rotate(30)"><path d="M-1,-4.0 L-9.5,-4.0 A2,4.0 0 0 0 -9.5,4.0 L-1,4.0Z" fill="#fff" stroke="#111" stroke-width="1.4"/><ellipse cx="0" cy="0" rx="4.3" ry="7" fill="#fff" stroke="#111" stroke-width="1.7"/><ellipse cx="0.8" cy="0" rx="1.8" ry="3.0" fill="#111" stroke="none"/><circle cx="0.8" cy="0" r="0.8" fill="#ddd"/></g>
<g transform="translate(947.50 700.71) rotate(30)"><path d="M-1,-4.0 L-9.5,-4.0 A2,4.0 0 0 0 -9.5,4.0 L-1,4.0Z" fill="#fff" stroke="#111" stroke-width="1.4"/><ellipse cx="0" cy="0" rx="4.3" ry="7" fill="#fff" stroke="#111" stroke-width="1.7"/><ellipse cx="0.8" cy="0" rx="1.8" ry="3.0" fill="#111" stroke="none"/><circle cx="0.8" cy="0" r="0.8" fill="#ddd"/></g>
<g transform="translate(984.50 679.28) rotate(30)"><path d="M-1,-4.0 L-9.5,-4.0 A2,4.0 0 0 0 -9.5,4.0 L-1,4.0Z" fill="#fff" stroke="#111" stroke-width="1.4"/><ellipse cx="0" cy="0" rx="4.3" ry="7" fill="#fff" stroke="#111" stroke-width="1.7"/><ellipse cx="0.8" cy="0" rx="1.8" ry="3.0" fill="#111" stroke="none"/><circle cx="0.8" cy="0" r="0.8" fill="#ddd"/></g>
<g transform="translate(1021.50 657.85) rotate(30)"><path d="M-1,-4.0 L-9.5,-4.0 A2,4.0 0 0 0 -9.5,4.0 L-1,4.0Z" fill="#fff" stroke="#111" stroke-width="1.4"/><ellipse cx="0" cy="0" rx="4.3" ry="7" fill="#fff" stroke="#111" stroke-width="1.7"/><ellipse cx="0.8" cy="0" rx="1.8" ry="3.0" fill="#111" stroke="none"/><circle cx="0.8" cy="0" r="0.8" fill="#ddd"/></g>
<g transform="translate(1058.50 636.42) rotate(30)"><path d="M-1,-4.0 L-9.5,-4.0 A2,4.0 0 0 0 -9.5,4.0 L-1,4.0Z" fill="#fff" stroke="#111" stroke-width="1.4"/><ellipse cx="0" cy="0" rx="4.3" ry="7" fill="#fff" stroke="#111" stroke-width="1.7"/><ellipse cx="0.8" cy="0" rx="1.8" ry="3.0" fill="#111" stroke="none"/><circle cx="0.8" cy="0" r="0.8" fill="#ddd"/></g>
<g transform="translate(1095.50 614.99) rotate(30)"><path d="M-1,-4.0 L-9.5,-4.0 A2,4.0 0 0 0 -9.5,4.0 L-1,4.0Z" fill="#fff" stroke="#111" stroke-width="1.4"/><ellipse cx="0" cy="0" rx="4.3" ry="7" fill="#fff" stroke="#111" stroke-width="1.7"/><ellipse cx="0.8" cy="0" rx="1.8" ry="3.0" fill="#111" stroke="none"/><circle cx="0.8" cy="0" r="0.8" fill="#ddd"/></g>
<path d="M163,952.5 L163,912.5 C164,910.5 166,909.5 168,910 C205,915 250,935 276.25,971.25 L276.25,1033.75" fill="none" stroke="#111" stroke-width="1.3" />
<path d="M165.00,915.00 L272.50,972.50" fill="none" stroke="#111" stroke-width="1.3" />
<path d="M272.50,972.50 L272.50,1033.75" fill="none" stroke="#111" stroke-width="1.3" />
<path d="M165.00,913.00 L165.00,917.00 L167.00,916.00" fill="none" stroke="#111" stroke-width="0.9" />
<path d="M200.00,948.75 L235.00,968.75 L235.00,1000.00" fill="none" stroke="#111" stroke-width="1.3" />
<path d="M200.00,948.75 L200.00,975.00" fill="none" stroke="#111" stroke-width="1.3" />
<path d="M204.00,951.00 L233.50,967.50 L235.50,970.50" fill="none" stroke="#111" stroke-width="1.3" />
<path d="M204.00,951.00 L204.00,977.00" fill="none" stroke="#111" stroke-width="1.3" />
<path d="M210.00,954.50 L210.00,980.00" fill="none" stroke="#111" stroke-width="1.0" />
<path d="M229.50,967.00 L229.50,997.00" fill="none" stroke="#111" stroke-width="1.0" />
<path d="M233.00,969.00 L233.00,998.00" fill="none" stroke="#111" stroke-width="1.0" />
<path d="M234.00,1006.00 L270.00,1026.00" fill="none" stroke="#111" stroke-width="1.3" />
<path d="M234.00,1041.00 L270.00,1025.00" fill="none" stroke="#111" stroke-width="1.3" />
<ellipse cx="245.50" cy="1024.50" rx="10.30" ry="6.80" transform="rotate(-22 245.50 1024.50)" fill="none" stroke="#111" stroke-width="1.3"/>
<ellipse cx="242.50" cy="1029.00" rx="6.30" ry="3.60" transform="rotate(-22 242.50 1029.00)" fill="none" stroke="#111" stroke-width="1.1"/>
<path d="M228.75,1061.25 L276.25,1033.75" fill="none" stroke="#111" stroke-width="1.3" />
<path d="M120.5,998.8 L120.5,937.5 C120.8,935.5 122.5,934.8 124.3,935.5 C160,956 200,979 232.8,997.5 L232.8,1060.5 L228.9,1060.8 C184,1055 140,1036 120.5,998.8 Z" fill="#fff" stroke="#111" stroke-width="1.4"/>
<path d="M120.5,943.3 C152,975 198,996 228.9,1001.4" fill="none" stroke="#111" stroke-width="1.4" />
<path d="M228.90,1001.40 L232.80,997.50" fill="none" stroke="#111" stroke-width="1.4" />
<path d="M228.90,1001.40 L228.90,1060.80" fill="none" stroke="#111" stroke-width="1.4" />
<path d="M57.10,933.75 L118.75,933.75" fill="none" stroke="#111" stroke-width="1.2" />
<path d="M57.10,998.75 L118.75,998.75" fill="none" stroke="#111" stroke-width="1.2" />
<path d="M66.25,950.00 L66.25,982.00" fill="none" stroke="#111" stroke-width="1.0" />
<path transform="translate(66.25 934.50) rotate(-90)" d="M0,0 L-17,-3.0 L-17,3.0 Z" fill="#fff" stroke="#111" stroke-width="1.1"/>
<path transform="translate(66.25 998.00) rotate(90)" d="M0,0 L-17,-3.0 L-17,3.0 Z" fill="#fff" stroke="#111" stroke-width="1.1"/>
<g transform="translate(55.00 981.25) rotate(-90) scale(0.9500)" fill="none" stroke="#111" stroke-width="1.684" stroke-linecap="round" stroke-linejoin="round"><g transform="translate(0 0)"><path d="M0.6,-14.8 C1.1,-18.5 3.6,-20 6.4,-20 C9.8,-20 12.4,-17.8 12.4,-14.6 C12.4,-10.6 9,-9 6,-7 C2.6,-5 0.3,-3 0.1,0 L12.7,0"/></g><g transform="translate(17.3 0)"><ellipse cx="6.5" cy="-10" rx="6.1" ry="9.7"/></g></g>
<path d="M120.50,998.75 L65.00,1030.50" fill="none" stroke="#111" stroke-width="1.2" />
<path d="M228.75,1061.25 L175.00,1092.50" fill="none" stroke="#111" stroke-width="1.2" />
<path d="M85.00,1034.00 L166.00,1081.00" fill="none" stroke="#111" stroke-width="1.0" />
<path transform="translate(72.60 1027.00) rotate(30)" d="M0,0 L0,0 L0,0 Z" fill="#fff" stroke="#111" stroke-width="1.1"/>
<path transform="translate(73.00 1027.30) rotate(210)" d="M0,0 L-17,-2.4 L-17,2.4 Z" fill="#fff" stroke="#111" stroke-width="1.1"/>
<path transform="translate(178.50 1087.70) rotate(30)" d="M0,0 L-17,-2.4 L-17,2.4 Z" fill="#fff" stroke="#111" stroke-width="1.1"/>
<g transform="translate(117.50 1049.50) rotate(30) scale(0.9500)" fill="none" stroke="#111" stroke-width="1.684" stroke-linecap="round" stroke-linejoin="round"><g transform="translate(0 0)"><path d="M10,0.3 L9.5,-20 L0.2,-6 L13,-6.2"/></g><g transform="translate(16 0)"><path d="M11.8,-19.7 L2.6,-19.7 L1.4,-10.6 C2.9,-12.1 4.6,-12.8 6.6,-12.8 C10.3,-12.8 12.7,-10.1 12.7,-6.3 C12.7,-2.5 10,0.2 6.4,0.2 C3.1,0.2 0.9,-1.8 0.4,-4.6"/></g></g>
<path d="M276.25,1018.75 L320.00,994.00" fill="none" stroke="#111" stroke-width="1.2" />
<path d="M276.25,1032.50 L320.00,1008.00" fill="none" stroke="#111" stroke-width="1.2" />
<path d="M312.50,958.75 L312.50,994.00" fill="none" stroke="#111" stroke-width="1.0" />
<path d="M312.50,1008.00 L312.50,1041.25" fill="none" stroke="#111" stroke-width="1.0" />
<path transform="translate(312.50 995.00) rotate(90)" d="M0,0 L-12,-2.2 L-12,2.2 Z" fill="#fff" stroke="#111" stroke-width="1.1"/>
<path transform="translate(312.50 1008.00) rotate(-90)" d="M0,0 L-12,-2.2 L-12,2.2 Z" fill="#fff" stroke="#111" stroke-width="1.1"/>
<g transform="translate(308.75 977.50) rotate(-90) scale(0.9500)" fill="none" stroke="#111" stroke-width="1.684" stroke-linecap="round" stroke-linejoin="round"><g transform="translate(0 0)"><path d="M11.8,-19.7 L2.6,-19.7 L1.4,-10.6 C2.9,-12.1 4.6,-12.8 6.6,-12.8 C10.3,-12.8 12.7,-10.1 12.7,-6.3 C12.7,-2.5 10,0.2 6.4,0.2 C3.1,0.2 0.9,-1.8 0.4,-4.6"/></g></g>
<path d="M477.99,1039.86 L478.01,1038.37 L478.06,1036.86 L478.13,1035.35 L478.23,1033.83 L478.35,1032.30 L478.49,1030.77 L478.66,1029.23 L478.85,1027.68 L479.07,1026.13 L479.31,1024.57 L479.57,1023.01 L479.86,1021.45 L480.17,1019.88 L480.50,1018.31 L480.85,1016.73 L481.23,1015.16 L481.64,1013.58 L482.06,1012.00 L482.51,1010.42 L482.98,1008.85 L483.48,1007.27 L483.99,1005.69 L484.53,1004.11 L485.09,1002.54 L485.67,1000.97 L486.28,999.40 L486.90,997.83 L487.55,996.27 L488.22,994.71 L488.91,993.16 L489.62,991.61 L490.35,990.07 L491.10,988.53 L491.87,987.00 L492.66,985.48 L493.47,983.97 L494.30,982.46 L495.15,980.96 L496.02,979.47 L496.90,977.99 L497.81,976.52 L498.73,975.06 L499.67,973.61 L500.63,972.17 L501.60,970.75 L502.59,969.33 L503.60,967.93 L504.62,966.54 L505.66,965.17 L506.72,963.80 L507.79,962.46 L508.88,961.12 L509.98,959.80 L511.10,958.50 L512.22,957.21 L513.37,955.94 L514.52,954.69 L515.69,953.45 L516.87,952.23 L518.07,951.03 L519.27,949.84 L520.49,948.67 L521.72,947.53 L522.96,946.40 L524.21,945.29 L525.47,944.20 L526.74,943.13 L528.02,942.08 L529.30,941.05 L530.60,940.04 L531.90,939.06 L533.21,938.09 L534.53,937.15 L535.86,936.23 L537.19,935.33 L538.53,934.46 L539.87,933.61 L541.22,932.78 L542.57,931.98 L543.93,931.19 L545.29,930.44 L546.66,929.71 L548.03,929.00 L549.40,928.31 L550.77,927.66 L552.15,927.02 L553.53,926.42 L554.90,925.83 L556.28,925.28 L557.66,924.75 L559.04,924.24 L560.42,923.76 L561.80,923.31 L563.17,922.89 L564.55,922.49 L565.92,922.11 L567.29,921.77 L568.65,921.45 L570.01,921.16 L571.37,920.89 L572.73,920.66 L574.07,920.45 L575.42,920.26 L576.76,920.11 L578.09,919.98 L579.41,919.88 L580.73,919.81 L582.04,919.76 L583.35,919.74 L584.64,919.75 L585.93,919.79 L587.21,919.86 L588.48,919.95 L589.74,920.07 L590.99,920.22 L592.23,920.39 L593.46,920.59 L594.68,920.82 L595.88,921.08 L597.08,921.36 L598.26,921.68 L599.43,922.01 L600.59,922.38 L601.73,922.77 L602.86,923.19 L603.98,923.63 L605.08,924.10 L606.16,924.60 L607.24,925.12 L608.29,925.67 L609.33,926.25 L610.36,926.85 L649.36,950.65 L650.37,951.27 L651.36,951.93 L652.34,952.60 L653.29,953.30 L654.23,954.03 L655.16,954.78 L656.06,955.55 L656.95,956.35 L657.82,957.17 L658.67,958.02 L659.50,958.88 L660.31,959.78 L661.10,960.69 L661.87,961.62 L662.62,962.58 L663.35,963.56 L664.06,964.56 L664.75,965.59 L665.42,966.63 L666.07,967.69 L666.70,968.78 L667.30,969.88 L667.89,971.00 L668.45,972.15 L668.99,973.31 L669.50,974.49 L670.00,975.69 L670.47,976.90 L670.92,978.13 L671.35,979.38 L671.75,980.65 L672.13,981.93 L672.49,983.23 L672.82,984.55 L673.13,985.88 L673.42,987.22 L673.68,988.58 L673.92,989.95 L674.14,991.34 L674.33,992.73 L674.50,994.15 L674.65,995.57 L674.77,997.00 L674.86,998.45 L674.94,999.91 L674.98,1001.37 L675.01,1002.85 L675.01,1004.34 L674.99,1005.83 L674.94,1007.34 L674.87,1008.85 L674.77,1010.37 L674.65,1011.90 L674.51,1013.43 L674.34,1014.97 L674.15,1016.52 L673.93,1018.07 L673.69,1019.63 L673.43,1021.19 L673.14,1022.75 L672.83,1024.32 L672.50,1025.89 L672.15,1027.47 L671.77,1029.04 L671.36,1030.62 L670.94,1032.20 L670.49,1033.78 L670.02,1035.35 L669.52,1036.93 L669.01,1038.51 L668.47,1040.09 L667.91,1041.66 L667.33,1043.23 L666.72,1044.80 L666.10,1046.37 L665.45,1047.93 L664.78,1049.49 L664.09,1051.04 L663.38,1052.59 L662.65,1054.13 L661.90,1055.67 L661.13,1057.20 L660.34,1058.72 L659.53,1060.23 L658.70,1061.74 L657.85,1063.24 L656.98,1064.73 L656.10,1066.21 L655.19,1067.68 L654.27,1069.14 L653.33,1070.59 L652.37,1072.03 L651.40,1073.45 L650.41,1074.87 L649.40,1076.27 L648.38,1077.66 L647.34,1079.03 L646.28,1080.40 L645.21,1081.74 L644.12,1083.08 L643.02,1084.40 L641.90,1085.70 L640.78,1086.99 L639.63,1088.26 L638.48,1089.51 L637.31,1090.75 L636.13,1091.97 L634.93,1093.17 L633.73,1094.36 L632.51,1095.53 L631.28,1096.67 L630.04,1097.80 L628.79,1098.91 L627.53,1100.00 L626.26,1101.07 L624.98,1102.12 L623.70,1103.15 L622.40,1104.16 L621.10,1105.14 L619.79,1106.11 L618.47,1107.05 L617.14,1107.97 L615.81,1108.87 L614.47,1109.74 L613.13,1110.59 L611.78,1111.42 L610.43,1112.22 L609.07,1113.01 L607.71,1113.76 L606.34,1114.49 L604.97,1115.20 L603.60,1115.89 L602.23,1116.54 L600.85,1117.18 L599.47,1117.78 L598.10,1118.37 L596.72,1118.92 L595.34,1119.45 L593.96,1119.96 L592.58,1120.44 L591.20,1120.89 L589.83,1121.31 L588.45,1121.71 L587.08,1122.09 L585.71,1122.43 L584.35,1122.75 L582.99,1123.04 L581.63,1123.31 L580.27,1123.54 L578.93,1123.75 L577.58,1123.94 L576.24,1124.09 L574.91,1124.22 L573.59,1124.32 L572.27,1124.39 L570.96,1124.44 L569.65,1124.46 L568.36,1124.45 L567.07,1124.41 L565.79,1124.34 L564.52,1124.25 L563.26,1124.13 L562.01,1123.98 L560.77,1123.81 L559.54,1123.61 L558.32,1123.38 L557.12,1123.12 L555.92,1122.84 L554.74,1122.52 L553.57,1122.19 L552.41,1121.82 L551.27,1121.43 L550.14,1121.01 L549.02,1120.57 L547.92,1120.10 L546.84,1119.60 L545.76,1119.08 L544.71,1118.53 L543.67,1117.95 L542.64,1117.35 L503.64,1093.55 L502.63,1092.93 L501.64,1092.27 L500.66,1091.60 L499.71,1090.90 L498.77,1090.17 L497.84,1089.42 L496.94,1088.65 L496.05,1087.85 L495.18,1087.03 L494.33,1086.18 L493.50,1085.32 L492.69,1084.42 L491.90,1083.51 L491.13,1082.58 L490.38,1081.62 L489.65,1080.64 L488.94,1079.64 L488.25,1078.61 L487.58,1077.57 L486.93,1076.51 L486.30,1075.42 L485.70,1074.32 L485.11,1073.20 L484.55,1072.05 L484.01,1070.89 L483.50,1069.71 L483.00,1068.51 L482.53,1067.30 L482.08,1066.07 L481.65,1064.82 L481.25,1063.55 L480.87,1062.27 L480.51,1060.97 L480.18,1059.65 L479.87,1058.32 L479.58,1056.98 L479.32,1055.62 L479.08,1054.25 L478.86,1052.86 L478.67,1051.47 L478.50,1050.05 L478.35,1048.63 L478.23,1047.20 L478.14,1045.75 L478.06,1044.29 L478.02,1042.83 L477.99,1041.35Z" fill="#fff" stroke="#111" stroke-width="1.4"/>
<ellipse cx="566.75" cy="1016.15" rx="97" ry="66.5" transform="rotate(-56 566.75 1016.15)" fill="none" stroke="#111" stroke-width="1.0"/>
<ellipse cx="569.09" cy="1017.58" rx="97" ry="66.5" transform="rotate(-56 569.09 1017.58)" fill="none" stroke="#111" stroke-width="1.0"/>
<ellipse cx="574.16" cy="1020.67" rx="97" ry="66.5" transform="rotate(-56 574.16 1020.67)" fill="none" stroke="#111" stroke-width="2.0"/>
<ellipse cx="583.13" cy="1026.15" rx="98" ry="67.5" transform="rotate(-56 583.13 1026.15)" fill="none" stroke="#111" stroke-width="1.2"/>
<ellipse cx="596.00" cy="1034.00" rx="99" ry="68" transform="rotate(-56 596.00 1034.00)" fill="#fff" stroke="#111" stroke-width="1.5"/>
<ellipse cx="596.30" cy="1034.30" rx="97" ry="66.3" transform="rotate(-56 596.30 1034.30)" fill="none" stroke="#111" stroke-width="0.9"/>
<ellipse cx="594.5" cy="1032" rx="82.5" ry="55.5" transform="rotate(-56 594.5 1032)" fill="#fff" stroke="#111" stroke-width="1.5"/>
<ellipse cx="595.2" cy="1032.5" rx="80.5" ry="54" transform="rotate(-56 595.2 1032.5)" fill="none" stroke="#111" stroke-width="0.9"/>
<path d="M626.36,959.14 L628.13,959.36 L629.88,959.64 L631.60,959.98 L633.30,960.40 L634.96,960.88 L636.59,961.42 L638.18,962.04 L639.74,962.71 L641.26,963.45 L642.75,964.26 L644.19,965.12 L645.60,966.05 L646.96,967.04 L648.28,968.10 L649.56,969.21 L650.79,970.37 L651.97,971.60 L653.11,972.88 L654.20,974.22 L655.24,975.61 L656.22,977.06 L657.16,978.55 L658.05,980.10 L658.88,981.70 L659.66,983.34 L660.38,985.03 L661.05,986.76 L661.66,988.54 L662.22,990.35 L662.72,992.21 L663.16,994.10 L663.55,996.04 L663.87,998.00 L664.14,1000.00 L664.36,1002.03 L664.51,1004.09 L664.60,1006.18 L664.64,1008.29 L664.61,1010.42 L664.53,1012.58 L664.39,1014.76 L664.19,1016.96 L663.93,1019.17 L663.62,1021.39 L663.24,1023.63 L662.81,1025.88 L662.32,1028.13 L661.78,1030.40 L661.18,1032.66 L660.52,1034.93 L659.81,1037.20 L659.04,1039.47 L658.22,1041.73 L657.35,1043.99 L656.42,1046.23 L655.44,1048.47 L654.41,1050.70 L653.34,1052.91 L652.21,1055.11 L651.03,1057.29 L649.81,1059.45 L648.55,1061.58 L647.24,1063.70 L645.88,1065.79 L644.48,1067.85 L643.05,1069.88 L641.57,1071.88 L640.05,1073.85 L638.50,1075.78 L636.91,1077.68 L635.29,1079.54 L633.64,1081.36 L631.95,1083.14 L630.23,1084.87 L628.49,1086.56 L626.72,1088.21 L624.92,1089.81 L623.11,1091.35 L621.26,1092.85 L619.40,1094.30 L617.52,1095.70 L615.63,1097.04 L613.71,1098.32 L611.79,1099.55 L609.85,1100.73 L607.90,1101.84 L605.95,1102.89 L603.99,1103.89 L602.02,1104.82 L600.05,1105.69 L598.08,1106.50 L596.10,1107.24 L594.13,1107.93 L592.17,1108.54 L590.21,1109.09 L588.26,1109.57 L586.31,1109.99 L584.38,1110.34 L582.46,1110.63 L580.56,1110.84 L578.67,1110.99 L576.79,1111.08 L574.94,1111.09 L573.11,1111.04 L571.30,1110.92 L569.51,1110.73 L567.76,1110.47 L566.02,1110.15 L564.32,1109.76 L562.65,1109.30 L561.01,1108.78 L559.40,1108.20 L557.83,1107.54 L556.29,1106.83 L554.79,1106.04 L553.33,1105.20 L551.91,1104.29 L550.53,1103.33 L549.19,1102.30 L547.90,1101.21" fill="none" stroke="#111" stroke-width="1.4"/>
<path d="M633.64,960.98 L635.27,961.38 L636.86,961.83 L638.43,962.34 L639.97,962.91 L641.48,963.55 L642.95,964.24 L644.39,964.98 L645.79,965.79 L647.16,966.65 L648.49,967.57 L649.78,968.55 L651.03,969.58 L652.25,970.66 L653.42,971.80 L654.54,972.98 L655.63,974.22 L656.66,975.51 L657.66,976.85 L658.61,978.24 L659.51,979.67 L660.36,981.15 L661.17,982.67 L661.92,984.24 L662.63,985.85 L663.29,987.50 L663.90,989.18 L664.45,990.91 L664.96,992.67 L665.41,994.47 L665.81,996.31 L666.16,998.17 L666.45,1000.07 L666.69,1001.99 L666.88,1003.94 L667.02,1005.92 L667.10,1007.93 L667.13,1009.95 L667.10,1012.00 L667.03,1014.07 L666.89,1016.15 L666.71,1018.26 L666.47,1020.37 L666.18,1022.50 L665.83,1024.64 L665.43,1026.79 L664.98,1028.95 L664.48,1031.12 L663.93,1033.28 L663.33,1035.46 L662.67,1037.63 L661.97,1039.80 L661.21,1041.97 L660.41,1044.13 L659.56,1046.29 L658.66,1048.44 L657.72,1050.58 L656.72,1052.71 L655.69,1054.83 L654.61,1056.93 L653.48,1059.01 L652.31,1061.08 L651.11,1063.13 L649.86,1065.15 L648.57,1067.15 L647.24,1069.13 L645.87,1071.08 L644.47,1073.01 L643.04,1074.90 L641.56,1076.77 L640.06,1078.60 L638.52,1080.39 L636.96,1082.16 L635.36,1083.88 L633.74,1085.57 L632.09,1087.22 L630.41,1088.82 L628.71,1090.39 L626.99,1091.91 L625.24,1093.39 L623.48,1094.82 L621.69,1096.20 L619.89,1097.54 L618.08,1098.83 L616.25,1100.06 L614.41,1101.25 L612.55,1102.38 L610.69,1103.46 L608.82,1104.49 L606.94,1105.46 L605.06,1106.38 L603.17,1107.24 L601.28,1108.04 L599.39,1108.79 L597.50,1109.48 L595.62,1110.11 L593.73,1110.68 L591.86,1111.19 L589.99,1111.64 L588.13,1112.03 L586.27,1112.36 L584.43,1112.63 L582.61,1112.83 L580.79,1112.98 L579.00,1113.06 L577.22,1113.09 L575.46,1113.05 L573.72,1112.95 L572.00,1112.78 L570.30,1112.56 L568.63,1112.28 L566.98,1111.93 L565.36,1111.52 L563.77,1111.06 L562.21,1110.53 L560.68,1109.94 L559.18,1109.30 L557.71,1108.60 L556.28,1107.83 L554.89,1107.02 L553.53,1106.14" fill="none" stroke="#111" stroke-width="0.9"/>
<path d="M519.80,888.00 L519.80,1049.00" fill="none" stroke="#111" stroke-width="1.0" />
<path d="M674.60,832.70 L674.60,988.00" fill="none" stroke="#111" stroke-width="1.0" />
<path d="M535.00,891.00 L660.00,845.50" fill="none" stroke="#111" stroke-width="1.0" />
<path transform="translate(519.80 896.20) rotate(160)" d="M0,0 L-16,-2.3 L-16,2.3 Z" fill="#fff" stroke="#111" stroke-width="1.1"/>
<path transform="translate(674.80 840.40) rotate(-20)" d="M0,0 L-16,-2.3 L-16,2.3 Z" fill="#fff" stroke="#111" stroke-width="1.1"/>
<g transform="translate(568.25 872.70) rotate(-19) scale(0.9250)" fill="none" stroke="#111" stroke-width="1.730" stroke-linecap="round" stroke-linejoin="round"><g transform="translate(3.7 0)"><ellipse cx="6.5" cy="-8.5" rx="7.0" ry="9.0"/><path d="M0.5,2 L12.5,-19"/></g><g transform="translate(21.7 0)"><path d="M11.9,-15.6 C11.2,-18.6 9.2,-20 6.7,-20 C2.4,-20 0.4,-16 0.4,-9.6 C0.4,-3 2.7,0.2 6.5,0.2 C10.2,0.2 12.6,-2.6 12.6,-6.5 C12.6,-10.3 10.1,-12.9 6.6,-12.9 C3.3,-12.9 0.8,-10.5 0.6,-7"/></g><g transform="translate(37.5 0)"><path d="M10,0.3 L9.5,-20 L0.2,-6 L13,-6.2"/></g></g>
<path d="M785,957.25 L785,919.25 L794.5,921.25 L802,914.75 L810.5,919 L810.5,957.25 Z" fill="#dcedf9" stroke="#111" stroke-width="1.5"/>
<path d="M785,1084.25 L810.5,1084.25 L810.5,1122 L801,1120.5 L793,1127 L785,1122 Z" fill="#dcedf9" stroke="#111" stroke-width="1.5"/>
<path d="M785.00,957.25 L785.00,1084.25" fill="none" stroke="#111" stroke-width="1.5" />
<path d="M810.50,957.25 L810.50,1084.25" fill="none" stroke="#111" stroke-width="1.5" />
<circle cx="794.0" cy="927.0" r="0.7" fill="#111"/>
<circle cx="788.6" cy="939.7" r="0.7" fill="#111"/>
<path d="M787.2,938.7 L789.2,938.7" transform="rotate(78 788.2 938.7)" stroke="#111" stroke-width="0.9"/>
<circle cx="788.5" cy="925.0" r="0.7" fill="#111"/>
<path d="M803.8,926.1 L805.8,926.1" transform="rotate(113 804.8 926.1)" stroke="#111" stroke-width="0.9"/>
<circle cx="807.4" cy="941.0" r="0.7" fill="#111"/>
<circle cx="808.0" cy="923.5" r="0.7" fill="#111"/>
<path d="M792.2,926.8 L794.2,926.8" transform="rotate(56 793.2 926.8)" stroke="#111" stroke-width="0.9"/>
<circle cx="804.5" cy="928.0" r="0.7" fill="#111"/>
<circle cx="800.7" cy="934.3" r="0.7" fill="#111"/>
<path d="M787.3,924.0 L789.3,924.0" transform="rotate(122 788.3 924.0)" stroke="#111" stroke-width="0.9"/>
<circle cx="796.2" cy="932.4" r="0.7" fill="#111"/>
<circle cx="796.7" cy="931.9" r="0.7" fill="#111"/>
<circle cx="802.0" cy="930.1" r="0.7" fill="#111"/>
<circle cx="798.3" cy="950.9" r="0.7" fill="#111"/>
<path d="M792.2,954.3 L794.2,954.3" transform="rotate(75 793.2 954.3)" stroke="#111" stroke-width="0.9"/>
<circle cx="803.3" cy="927.0" r="0.7" fill="#111"/>
<circle cx="787.8" cy="944.1" r="0.7" fill="#111"/>
<circle cx="799.3" cy="950.9" r="0.7" fill="#111"/>
<circle cx="801.9" cy="941.6" r="0.7" fill="#111"/>
<circle cx="796.8" cy="949.7" r="0.7" fill="#111"/>
<path d="M796.2,943.9 L798.2,943.9" transform="rotate(126 797.2 943.9)" stroke="#111" stroke-width="0.9"/>
<circle cx="800.9" cy="954.8" r="0.7" fill="#111"/>
<circle cx="793.1" cy="934.7" r="0.7" fill="#111"/>
<path d="M786.5,937.2 L788.5,937.2" transform="rotate(21 787.5 937.2)" stroke="#111" stroke-width="0.9"/>
<path d="M787.3,947.4 L789.3,947.4" transform="rotate(45 788.3 947.4)" stroke="#111" stroke-width="0.9"/>
<path d="M794.4,950.8 L796.4,950.8" transform="rotate(81 795.4 950.8)" stroke="#111" stroke-width="0.9"/>
<circle cx="798.8" cy="951.2" r="0.7" fill="#111"/>
<circle cx="805.6" cy="931.2" r="0.7" fill="#111"/>
<circle cx="794.7" cy="951.2" r="0.7" fill="#111"/>
<path d="M789.2,927.8 L791.2,927.8" transform="rotate(42 790.2 927.8)" stroke="#111" stroke-width="0.9"/>
<path d="M796.4,941.4 L798.4,941.4" transform="rotate(1 797.4 941.4)" stroke="#111" stroke-width="0.9"/>
<circle cx="796.0" cy="934.2" r="0.7" fill="#111"/>
<circle cx="807.5" cy="944.8" r="0.7" fill="#111"/>
<path d="M799.3,944.3 L801.3,944.3" transform="rotate(162 800.3 944.3)" stroke="#111" stroke-width="0.9"/>
<circle cx="803.8" cy="950.9" r="0.7" fill="#111"/>
<path d="M794.4,935.2 L796.4,935.2" transform="rotate(114 795.4 935.2)" stroke="#111" stroke-width="0.9"/>
<path d="M787.3,924.2 L789.3,924.2" transform="rotate(29 788.3 924.2)" stroke="#111" stroke-width="0.9"/>
<path d="M793.3,923.7 L795.3,923.7" transform="rotate(27 794.3 923.7)" stroke="#111" stroke-width="0.9"/>
<path d="M788.2,934.0 L790.2,934.0" transform="rotate(157 789.2 934.0)" stroke="#111" stroke-width="0.9"/>
<path d="M799.2,926.9 L801.2,926.9" transform="rotate(63 800.2 926.9)" stroke="#111" stroke-width="0.9"/>
<circle cx="794.8" cy="926.1" r="0.7" fill="#111"/>
<circle cx="808.4" cy="1101.8" r="0.7" fill="#111"/>
<circle cx="788.8" cy="1089.5" r="0.7" fill="#111"/>
<path d="M791.7,1114.2 L793.7,1114.2" transform="rotate(4 792.7 1114.2)" stroke="#111" stroke-width="0.9"/>
<path d="M806.4,1104.0 L808.4,1104.0" transform="rotate(98 807.4 1104.0)" stroke="#111" stroke-width="0.9"/>
<circle cx="787.6" cy="1104.0" r="0.7" fill="#111"/>
<path d="M804.6,1109.7 L806.6,1109.7" transform="rotate(66 805.6 1109.7)" stroke="#111" stroke-width="0.9"/>
<circle cx="790.6" cy="1112.2" r="0.7" fill="#111"/>
<path d="M802.7,1097.2 L804.7,1097.2" transform="rotate(146 803.7 1097.2)" stroke="#111" stroke-width="0.9"/>
<circle cx="808.2" cy="1115.0" r="0.7" fill="#111"/>
<path d="M803.6,1111.2 L805.6,1111.2" transform="rotate(93 804.6 1111.2)" stroke="#111" stroke-width="0.9"/>
<path d="M793.6,1087.0 L795.6,1087.0" transform="rotate(50 794.6 1087.0)" stroke="#111" stroke-width="0.9"/>
<circle cx="792.6" cy="1109.5" r="0.7" fill="#111"/>
<circle cx="796.6" cy="1117.9" r="0.7" fill="#111"/>
<path d="M806.5,1098.4 L808.5,1098.4" transform="rotate(41 807.5 1098.4)" stroke="#111" stroke-width="0.9"/>
<circle cx="791.2" cy="1092.9" r="0.7" fill="#111"/>
<circle cx="806.4" cy="1114.6" r="0.7" fill="#111"/>
<path d="M800.0,1113.2 L802.0,1113.2" transform="rotate(119 801.0 1113.2)" stroke="#111" stroke-width="0.9"/>
<circle cx="806.6" cy="1112.6" r="0.7" fill="#111"/>
<circle cx="797.3" cy="1092.1" r="0.7" fill="#111"/>
<circle cx="794.1" cy="1113.2" r="0.7" fill="#111"/>
<circle cx="795.5" cy="1099.6" r="0.7" fill="#111"/>
<path d="M801.6,1091.8 L803.6,1091.8" transform="rotate(27 802.6 1091.8)" stroke="#111" stroke-width="0.9"/>
<path d="M805.5,1113.4 L807.5,1113.4" transform="rotate(149 806.5 1113.4)" stroke="#111" stroke-width="0.9"/>
<circle cx="808.1" cy="1108.3" r="0.7" fill="#111"/>
<path d="M797.8,1090.5 L799.8,1090.5" transform="rotate(175 798.8 1090.5)" stroke="#111" stroke-width="0.9"/>
<circle cx="801.0" cy="1103.9" r="0.7" fill="#111"/>
<circle cx="796.3" cy="1115.6" r="0.7" fill="#111"/>
<path d="M790.5,1094.6 L792.5,1094.6" transform="rotate(43 791.5 1094.6)" stroke="#111" stroke-width="0.9"/>
<circle cx="799.6" cy="1094.8" r="0.7" fill="#111"/>
<circle cx="789.8" cy="1116.9" r="0.7" fill="#111"/>
<circle cx="796.9" cy="1105.8" r="0.7" fill="#111"/>
<circle cx="796.0" cy="1117.2" r="0.7" fill="#111"/>
<path d="M797.4,1103.8 L799.4,1103.8" transform="rotate(79 798.4 1103.8)" stroke="#111" stroke-width="0.9"/>
<circle cx="790.9" cy="1086.1" r="0.7" fill="#111"/>
<circle cx="790.7" cy="1102.1" r="0.7" fill="#111"/>
<circle cx="799.0" cy="1097.1" r="0.7" fill="#111"/>
<path d="M797.9,1112.7 L799.9,1112.7" transform="rotate(101 798.9 1112.7)" stroke="#111" stroke-width="0.9"/>
<circle cx="792.3" cy="1095.4" r="0.7" fill="#111"/>
<circle cx="797.9" cy="1105.1" r="0.7" fill="#111"/>
<circle cx="806.6" cy="1101.1" r="0.7" fill="#111"/>
<circle cx="797.9" cy="1103.4" r="0.7" fill="#111"/>
<circle cx="796.7" cy="1104.1" r="0.7" fill="#111"/>
<path d="M749.70,957.25 L779.75,957.25" fill="none" stroke="#111" stroke-width="1.2" />
<path d="M749.70,1084.25 L779.75,1084.25" fill="none" stroke="#111" stroke-width="1.2" />
<path d="M756.50,970.00 L756.50,1071.00" fill="none" stroke="#111" stroke-width="1.0" />
<path transform="translate(756.50 958.00) rotate(-90)" d="M0,0 L-17,-3.0 L-17,3.0 Z" fill="#fff" stroke="#111" stroke-width="1.1"/>
<path transform="translate(756.50 1083.50) rotate(90)" d="M0,0 L-17,-3.0 L-17,3.0 Z" fill="#fff" stroke="#111" stroke-width="1.1"/>
<path d="M772.50,1020.80 L785.00,1020.80" fill="none" stroke="#111" stroke-width="1.3" />
<path d="M794.00,1020.80 L800.00,1020.80" fill="none" stroke="#111" stroke-width="1.3" />
<path d="M805.00,1020.80 L822.50,1020.80" fill="none" stroke="#111" stroke-width="1.3" />
<g transform="translate(751.50 1042.00) rotate(-90) scale(0.8500)" fill="none" stroke="#111" stroke-width="1.882" stroke-linecap="round" stroke-linejoin="round"><g transform="translate(0 0)"><ellipse cx="6" cy="-10" rx="6.3" ry="6.3"/><path d="M2,-0.5 L10,-19.5"/></g><g transform="translate(17.6 0)"><path d="M11.8,-19.7 L2.6,-19.7 L1.4,-10.6 C2.9,-12.1 4.6,-12.8 6.6,-12.8 C10.3,-12.8 12.7,-10.1 12.7,-6.3 C12.7,-2.5 10,0.2 6.4,0.2 C3.1,0.2 0.9,-1.8 0.4,-4.6"/></g><g transform="translate(35.9 0)"><ellipse cx="6.5" cy="-10" rx="6.1" ry="9.7"/></g></g>
</svg></body></html>
